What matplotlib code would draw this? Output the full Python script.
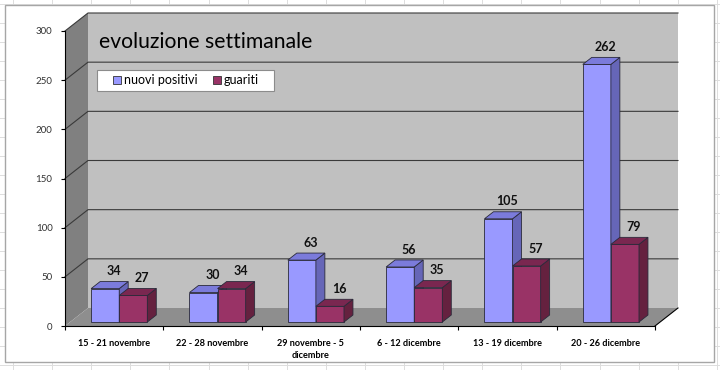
import numpy as np
import matplotlib.pyplot as plt
from matplotlib.patches import Polygon, Rectangle
from matplotlib.lines import Line2D

plt.rcParams['font.family'] = ['Lato', 'DejaVu Sans']

# data
weeks = ["15 - 21 novembre", "22 - 28 novembre", "29 novembre - 5\ndicembre",
         "6 - 12 dicembre", "13 - 19 dicembre", "20 - 26 dicembre"]
nuovi_positivi = [34, 30, 63, 56, 105, 262]
guariti = [27, 34, 16, 35, 57, 79]
series_names = ["nuovi positivi", "guariti"]
y_ticks = [0, 50, 100, 150, 200, 250, 300]

# colours: front, side, top
blue = ("#9999ff", "#6666b8", "#7b7bdb")
red = ("#993366", "#65213f", "#7a2750")

W, H = 720, 370
fig = plt.figure(figsize=(W / 100, H / 100), dpi=100)
fig.patch.set_facecolor("white")

# spreadsheet grid behind the chart object
for gx in np.arange(13, W, 39.1):
    fig.add_artist(Line2D([gx / W, gx / W], [0, 1], color="#dddddd", lw=0.7, zorder=-3))
for gy in np.arange(4.3, H, 19.0):
    fig.add_artist(Line2D([0, 1], [1 - gy / H, 1 - gy / H], color="#dddddd", lw=0.7, zorder=-3))
fig.add_artist(Rectangle((5 / W, 1 - 362 / H), 709 / W, 357 / H,
                         transform=fig.transFigure, facecolor="white",
                         edgecolor="#a6a6a6", lw=1.0, zorder=-2))

# front plane of the 3d box
ax = fig.add_axes([65 / W, (H - 326) / H, 590 / W, 295 / H])
n = len(weeks)
ax.set_xlim(-0.5, n - 0.5)
ax.set_ylim(0, 300)
ax.patch.set_visible(False)
for sp in ax.spines.values():
    sp.set_visible(False)

# depth direction (full depth) in data units
DX = 23 / (590 / n)
DY = 18 / (295 / 300)


def proj(x, y, d):
    return (x + d * DX, y + d * DY)


def poly(pts, fc, ec="none", lw=0.0, z=1):
    ax.add_patch(Polygon([proj(*p) for p in pts], closed=True, facecolor=fc,
                         edgecolor=ec, lw=lw, zorder=z, clip_on=False))


x0, x1 = -0.5, n - 0.5
ymax = y_ticks[-1]
# walls and floor
poly([(x0, 0, 0), (x0, 0, 1), (x0, ymax, 1), (x0, ymax, 0)], "#808080", z=0)
poly([(x0, 0, 1), (x1, 0, 1), (x1, ymax, 1), (x0, ymax, 1)], "#c0c0c0", z=0)
poly([(x0, 0, 0), (x1, 0, 0), (x1, 0, 1), (x0, 0, 1)], "#8e8e8e", z=0)

# gridlines on side and back wall
for v in y_ticks[1:]:
    pts = [proj(x0, v, 0), proj(x0, v, 1), proj(x1, v, 1)]
    ax.plot([p[0] for p in pts], [p[1] for p in pts], color="#3a3a3a",
            lw=0.8, zorder=0.5, clip_on=False)

# axis lines
ax.plot([x0, x0], [0, ymax], color="black", lw=0.8, zorder=0.6, clip_on=False)
ax.plot([x0, x1], [0, 0], color="black", lw=0.8, zorder=0.6, clip_on=False)
p = [proj(x1, 0, 0), proj(x1, 0, 1)]
ax.plot([p[0][0], p[1][0]], [p[0][1], p[1][1]], color="black", lw=0.8,
        zorder=0.6, clip_on=False)

# bars
bw = 1 / 3.5
d0, d1 = 0.22, 0.61
for i in range(n):
    for s, (vals, cols) in enumerate([(nuovi_positivi, blue), (guariti, red)]):
        v = vals[i]
        a = i - bw + s * bw
        b = a + bw
        ec = "#2a2a3a"
        poly([(a, 0, d0), (b, 0, d0), (b, v, d0), (a, v, d0)], cols[0], ec, 0.6, 2 + i + s * 0.1)
        poly([(b, 0, d0), (b, 0, d1), (b, v, d1), (b, v, d0)], cols[1], ec, 0.6, 2 + i + s * 0.1)
        poly([(a, v, d0), (b, v, d0), (b, v, d1), (a, v, d1)], cols[2], ec, 0.6, 2 + i + s * 0.1)
        ax.annotate(str(v), proj((a + b) / 2, v, d1), xytext=(0, 7.5),
                    textcoords="offset points", ha="center", va="center",
                    fontsize=9, fontweight="bold", color="#111111", zorder=20)

# ticks
ax.set_yticks(y_ticks)
ax.tick_params(axis="y", direction="out", length=3, width=0.8, pad=6,
               labelsize=7, labelcolor="#333333")
ax.set_xticks(range(n))
ax.set_xticklabels(weeks, fontsize=6.6, fontweight="bold", linespacing=1.5)
ax.set_xticks(np.arange(-0.5, n, 1), minor=True)
ax.tick_params(axis="x", which="major", length=0, pad=9)
ax.tick_params(axis="x", which="minor", direction="out", length=3, width=0.8)
for lab in ax.get_xticklabels():
    lab.set_va("top")

# title and legend
fig.text(99 / W, 1 - 42 / H, "evoluzione settimanale", fontsize=15.2,
         ha="left", va="center", color="black")
fig.add_artist(Rectangle((97 / W, 1 - 91 / H), 177 / W, 21 / H,
                         transform=fig.transFigure, facecolor="white",
                         edgecolor="#8c8c8c", lw=0.8, zorder=5))
handles = [Line2D([], [], ls="none", marker="s", markersize=6,
                  markerfacecolor=c[0], markeredgecolor="#333333", markeredgewidth=0.6)
           for c in (blue, red)]
leg = fig.legend(handles, series_names, loc="center left",
                 bbox_to_anchor=(111 / W, 1 - 80.5 / H), ncol=2, fontsize=9,
                 frameon=False, handlelength=0.9, handletextpad=0.15,
                 columnspacing=1.05, borderpad=0, borderaxespad=0)
leg.set_zorder(6)

fig.savefig("out.png", dpi=100)
